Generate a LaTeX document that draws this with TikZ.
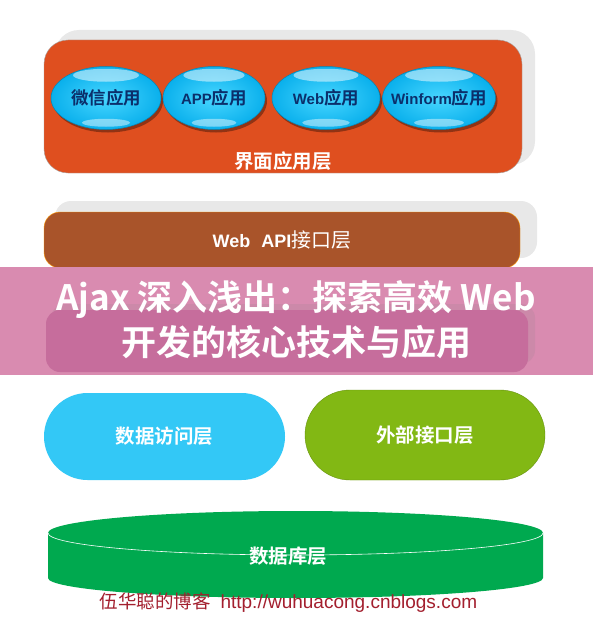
\documentclass[tikz,border=0pt]{standalone}
\usepackage{fontspec}
\setmainfont{Liberation Sans}
\newfontfamily\cjk{Noto Sans CJK SC}[BoldFont={Noto Sans CJK SC Bold}]
\usetikzlibrary{shapes.geometric,shapes.misc,shadows}
\definecolor{uiorange}{HTML}{DF4F1F}
\definecolor{apibrown}{HTML}{A9542A}
\definecolor{bannerpink}{HTML}{D98BB0}
\definecolor{hiddenpink}{HTML}{C66D9C}
\definecolor{dalblue}{HTML}{33C8F6}
\definecolor{extgreen}{HTML}{82B814}
\definecolor{dbgreen}{HTML}{00A94F}
\definecolor{bubblein}{HTML}{48D6FF}
\definecolor{bubbleout}{HTML}{0AB0EC}
\definecolor{navytext}{HTML}{0B2F6B}
\definecolor{blogred}{HTML}{A31F2E}
\definecolor{shadowgray}{HTML}{E8E8E8}

\begin{document}
\begin{tikzpicture}[x=1pt, y=-1pt,
  bubble/.style={ellipse, draw=bubbleout!75!black, line width=.5pt, inner color=bubblein,
    outer color=bubbleout, minimum height=63pt, inner sep=0pt,
    drop shadow={shadow xshift=2pt, shadow yshift=-3pt, fill=black, opacity=.35}},
  bubbletext/.style={text=navytext, font=\bfseries\fontsize{15}{15}\selectfont},
  layerbox/.style={rounded corners=24pt, inner sep=0pt},
  layertext/.style={text=white, font=\cjk\bfseries\fontsize{19.5}{20}\selectfont},
  pill/.style={rounded rectangle, inner sep=0pt, minimum width=241pt}]
  \useasboundingbox (0,0) rectangle (593,642);
  \fill[white] (0,0) rectangle (593,642);

  % interface layer
  \node[layerbox, fill=shadowgray, minimum width=480pt, minimum height=135pt] (uishadow) at (295,97.5) {};
  \node[layerbox, fill=uiorange, draw=gray!70, minimum width=478pt, minimum height=133pt] (ui) at (283,106.5) {};
  \foreach \name/\x/\w/\lat/\han in {wx/106/110//微信应用, app/214/102/APP/应用, web/326/108/Web/应用, win/439/113/Winform/应用}{
    \node[bubble, minimum width=\w pt] (\name) at (\x,98) {};
    \fill[white, opacity=.5] ([yshift=-9pt]\name.north) ellipse [x radius=.3*\w, y radius=6.5];
    \fill[white, opacity=.45] ([yshift=7pt]\name.south) ellipse [x radius=.22*\w, y radius=4];
    \node[bubbletext] at (\name) {\lat{\cjk\fontsize{17.5}{18}\selectfont\han}};
  }
  \node[layertext] (uilabel) at (283,161) {界面应用层};

  % web api layer
  \node[layerbox, rounded corners=16pt, fill=shadowgray, minimum width=482pt, minimum height=57pt] (apishadow) at (296,229.5) {};
  \node[layerbox, rounded corners=16pt, fill=apibrown, draw=orange!80!yellow, minimum width=476pt, minimum height=56pt] (api) at (282,240) {};
  \node[text=white, font=\bfseries\fontsize{18}{18}\selectfont] (apilabel) at (api) {Web\,\, API{\cjk\mdseries\fontsize{20}{20}\selectfont 接口层}};

  % banner over the hidden layer
  \fill[bannerpink] (0,267) rectangle (593,375);
  \node[layerbox, rounded corners=14pt, fill=bannerpink!85!gray, minimum width=484pt, minimum height=60pt] (hidshadow) at (293,334) {};
  \node[layerbox, rounded corners=14pt, fill=hiddenpink, minimum width=482pt, minimum height=62pt] (hidden) at (287,341) {};
  \node[text=white, align=center, font=\cjk\bfseries\fontsize{35}{45}\selectfont] (banner) at (296,320) {Ajax 深入浅出：探索高效 Web\\开发的核心技术与应用};

  % data access and external interface
  \node[pill, fill=dalblue, minimum height=87pt] (dal) at (164.5,436.5) {};
  \node[layertext] at (dal) {数据访问层};
  \node[pill, fill=extgreen, draw=extgreen!80!black, line width=.4pt, minimum width=240pt, minimum height=90pt] (ext) at (425,435) {};
  \node[layertext] at (ext) {外部接口层};

  % database layer
  \fill[dbgreen] (48,533) -- (48,578) arc [start angle=180, end angle=0, x radius=247.5, y radius=20]
    -- (543,533) arc [start angle=0, end angle=-180, x radius=247.5, y radius=22] -- cycle;
  \draw[white, line width=.6pt] (48,533) arc [start angle=180, end angle=0, x radius=247.5, y radius=22];
  \node[layertext] (db) at (288,556) {数据库层};

  \node[anchor=west, text=blogred, font=\fontsize{19}{19}\selectfont] (blog) at (96,603) {{\cjk\fontsize{18.5}{19}\selectfont 伍华聪的博客}\hspace{10pt}http://wuhuacong.cnblogs.com};
\end{tikzpicture}
\end{document}
